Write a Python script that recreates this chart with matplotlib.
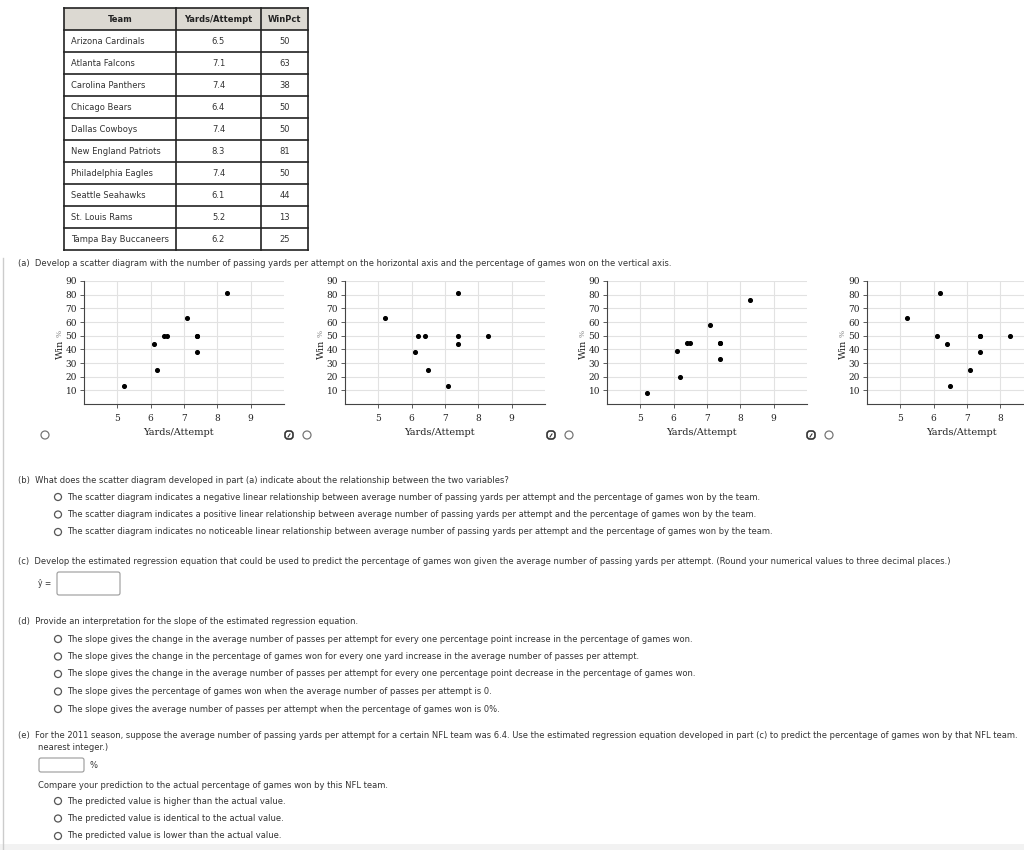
import matplotlib.pyplot as plt
from matplotlib.patches import Rectangle, Circle, FancyBboxPatch

# table data
teams = ['Arizona Cardinals', 'Atlanta Falcons', 'Carolina Panthers', 'Chicago Bears',
         'Dallas Cowboys', 'New England Patriots', 'Philadelphia Eagles',
         'Seattle Seahawks', 'St. Louis Rams', 'Tampa Bay Buccaneers']
yards = [6.5, 7.1, 7.4, 6.4, 7.4, 8.3, 7.4, 6.1, 5.2, 6.2]
winpct = [50, 63, 38, 50, 50, 81, 50, 44, 13, 25]
headers = ['Team', 'Yards/Attempt', 'WinPct']

# the four answer choices in part (a)
p1_x = [6.5, 7.1, 7.4, 6.4, 7.4, 8.3, 7.4, 6.1, 5.2, 6.2]
p1_y = [50, 63, 38, 50, 50, 81, 50, 44, 13, 25]
p2_x = [5.2, 6.1, 6.2, 6.4, 6.5, 7.1, 7.4, 7.4, 7.4, 8.3]
p2_y = [63, 38, 50, 50, 25, 13, 81, 50, 44, 50]
p3_x = [6.5, 7.1, 7.4, 6.4, 7.4, 8.3, 7.4, 6.1, 5.2, 6.2]
p3_y = [45, 58, 33, 45, 45, 76, 45, 39, 8, 20]
p4_x = [5.2, 6.2, 6.1, 6.4, 6.5, 7.1, 7.4, 7.4, 7.4, 8.3]
p4_y = [63, 81, 50, 44, 13, 25, 50, 38, 50, 50]
panels = [(p1_x, p1_y), (p2_x, p2_y), (p3_x, p3_y), (p4_x, p4_y)]
x_ticks = [5, 6, 7, 8, 9]
y_ticks = [10, 20, 30, 40, 50, 60, 70, 80, 90]

part_a = ('(a)  Develop a scatter diagram with the number of passing yards per attempt on the '
          'horizontal axis and the percentage of games won on the vertical axis.')
part_b = '(b)  What does the scatter diagram developed in part (a) indicate about the relationship between the two variables?'
opts_b = [
    'The scatter diagram indicates a negative linear relationship between average number of passing yards per attempt and the percentage of games won by the team.',
    'The scatter diagram indicates a positive linear relationship between average number of passing yards per attempt and the percentage of games won by the team.',
    'The scatter diagram indicates no noticeable linear relationship between average number of passing yards per attempt and the percentage of games won by the team.',
]
part_c = ('(c)  Develop the estimated regression equation that could be used to predict the percentage of games won '
          'given the average number of passing yards per attempt. (Round your numerical values to three decimal places.)')
part_d = '(d)  Provide an interpretation for the slope of the estimated regression equation.'
opts_d = [
    'The slope gives the change in the average number of passes per attempt for every one percentage point increase in the percentage of games won.',
    'The slope gives the change in the percentage of games won for every one yard increase in the average number of passes per attempt.',
    'The slope gives the change in the average number of passes per attempt for every one percentage point decrease in the percentage of games won.',
    'The slope gives the percentage of games won when the average number of passes per attempt is 0.',
    'The slope gives the average number of passes per attempt when the percentage of games won is 0%.',
]
part_e = ('(e)  For the 2011 season, suppose the average number of passing yards per attempt for a certain NFL team was 6.4. '
          'Use the estimated regression equation developed in part (c) to predict the percentage of games won by that NFL team.')
compare = 'Compare your prediction to the actual percentage of games won by this NFL team.'
opts_e = [
    'The predicted value is higher than the actual value.',
    'The predicted value is identical to the actual value.',
    'The predicted value is lower than the actual value.',
]

W, H = 1024, 850
TXT = '#333333'
FS = 6.0

fig = plt.figure(figsize=(W / 100, H / 100), dpi=100)
bg = fig.add_axes([0, 0, 1, 1])
bg.set_xlim(0, W)
bg.set_ylim(H, 0)
bg.axis('off')


def txt(x, y, s, **kw):
    kw.setdefault('fontsize', FS)
    kw.setdefault('color', TXT)
    bg.text(x, y, s, va='center', ha=kw.pop('ha', 'left'), **kw)


def radio(x, y, r=3.5, ec='#555555'):
    bg.add_patch(Circle((x, y), r, fc='white', ec=ec, lw=0.9))


# left page border and bottom band
bg.plot([3, 3], [258, 850], color='#cccccc', lw=1)
bg.add_patch(Rectangle((0, 844), W, 6, fc='#f2f2f2', ec='none'))

# ---- table ----
col_edges = [64, 176, 261, 308]
row_top = 8
hdr_h = 22
row_h = 22
n = len(teams)
bottom = row_top + hdr_h + n * row_h
bg.add_patch(Rectangle((col_edges[0], row_top), col_edges[-1] - col_edges[0], hdr_h,
                       fc='#dcd9d2', ec='none'))
for cx in col_edges:
    bg.plot([cx, cx], [row_top, bottom], color='#222222', lw=1.2)
for k in range(n + 2):
    yy = row_top if k == 0 else row_top + hdr_h + (k - 1) * row_h
    bg.plot([col_edges[0], col_edges[-1]], [yy, yy], color='#222222', lw=1.2)
for j, h in enumerate(headers):
    txt((col_edges[j] + col_edges[j + 1]) / 2, row_top + hdr_h / 2, h,
        ha='center', fontweight='bold', color='#222222')
for i in range(n):
    cy = row_top + hdr_h + i * row_h + row_h / 2
    txt(col_edges[0] + 7, cy, teams[i])
    txt((col_edges[1] + col_edges[2]) / 2, cy, f'{yards[i]:.1f}', ha='center')
    txt((col_edges[2] + col_edges[3]) / 2, cy, f'{winpct[i]}', ha='center')

# ---- part (a) ----
txt(18, 264, part_a)

ax_lefts = [84, 345, 607, 867]
ax_top, ax_bot, ax_w = 281, 404, 200
for k, (px, py) in enumerate(panels):
    left = ax_lefts[k]
    ax = fig.add_axes([left / W, (H - ax_bot) / H, ax_w / W, (ax_bot - ax_top) / H])
    ax.scatter(px, py, s=7, color='black', zorder=3)
    ax.set_xlim(4, 10)
    ax.set_ylim(0, 90)
    ax.set_xticks(x_ticks)
    ax.set_yticks(y_ticks)
    ax.grid(True, color='#e2e2e2', lw=0.8)
    ax.set_axisbelow(True)
    for s in ['top', 'right']:
        ax.spines[s].set_visible(False)
    for s in ['left', 'bottom']:
        ax.spines[s].set_color('#444444')
        ax.spines[s].set_linewidth(0.8)
    ax.tick_params(length=3, width=0.6, color='#444444', labelsize=6.5, pad=2)
    for lab in ax.get_xticklabels() + ax.get_yticklabels():
        lab.set_fontfamily('DejaVu Serif')
        lab.set_color('#222222')
    ax.tick_params(axis='x', pad=4)
    # last panel runs off the page: drop the tick label that falls outside
    if left + (x_ticks[-1] - 4) * ax_w / 6 > W - 4:
        ax.get_xticklabels()[-1].set_visible(False)
    # axis titles
    txt(left + 94, 432, 'Yards/Attempt', ha='center', fontsize=7, family='DejaVu Serif', color='#222222')
    txt(left - 24, 349, 'Win', ha='center', rotation=90, fontsize=7, family='DejaVu Serif', color='#222222')
    txt(left - 24, 333, '%', ha='center', rotation=90, fontsize=5.5, family='DejaVu Serif', color='#888888')
    # radio / icon
    rx = left - 39 if k == 0 else left - 38
    radio(rx, 435, r=4, ec='#777777')
    if k > 0:
        bg.add_patch(FancyBboxPatch((left - 60, 431), 8, 8, boxstyle='round,pad=0,rounding_size=3',
                                    fc='white', ec='#333333', lw=1.2))
        bg.plot([left - 57, left - 55], [437, 434], color='#333333', lw=0.8)

# ---- part (b) ----
txt(18, 480, part_b)
for i, o in enumerate(opts_b):
    y = 497 + i * 17.5
    radio(58, y)
    txt(67, y, o)

# ---- part (c) ----
txt(18, 561, part_c)
txt(38, 583, 'ŷ =', fontsize=5.5)
bg.add_patch(FancyBboxPatch((57, 572), 63, 23, boxstyle='round,pad=0,rounding_size=2',
                            fc='white', ec='#999999', lw=0.8))

# ---- part (d) ----
txt(18, 622, part_d)
for i, o in enumerate(opts_d):
    y = 639 + i * 17.5
    radio(58, y)
    txt(67, y, o)

# ---- part (e) ----
txt(18, 735, part_e, fontsize=6.05)
txt(38, 747, 'nearest integer.)')
bg.add_patch(FancyBboxPatch((39, 758), 45, 14, boxstyle='round,pad=0,rounding_size=2',
                            fc='white', ec='#999999', lw=0.8))
txt(90, 765, '%')
txt(38, 786, compare)
for i, o in enumerate(opts_e):
    y = 801 + i * 17.5
    radio(58, y)
    txt(67, y, o)

fig.savefig('out.png', dpi=100)
